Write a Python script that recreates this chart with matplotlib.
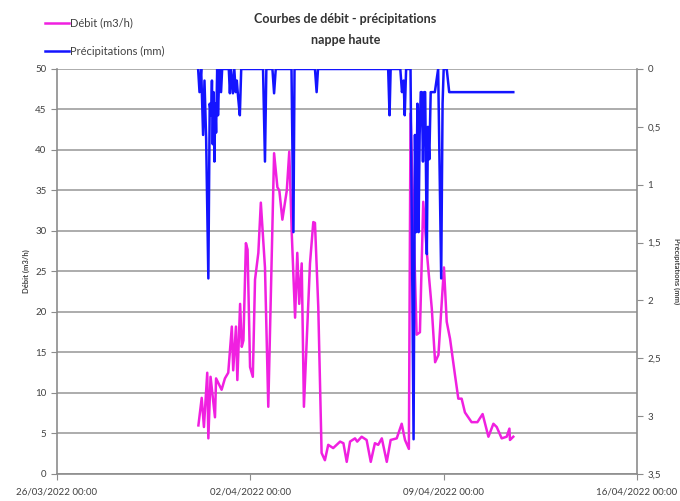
import datetime as dt
import matplotlib
matplotlib.use("Agg")
import matplotlib.pyplot as plt
import matplotlib.dates as mdates
from matplotlib.ticker import FuncFormatter, MultipleLocator

plt.rcParams['font.family'] = ['Lato', 'DejaVu Sans']

# origine de l'axe temporel
T0 = dt.datetime(2022, 3, 26)

# Débit (m3/h) - temps en jours depuis T0
debit_jours = [5.12, 5.24, 5.32, 5.44, 5.48, 5.56, 5.72, 5.76, 5.96, 6.08,
               6.20, 6.33, 6.38, 6.48, 6.53, 6.63, 6.69, 6.75, 6.84, 6.90,
               6.99, 7.09, 7.17, 7.29, 7.38, 7.53, 7.65, 7.86, 7.98, 8.05,
               8.16, 8.32, 8.41, 8.50, 8.62, 8.70, 8.77, 8.86, 8.94, 9.16,
               9.28, 9.34, 9.46, 9.58, 9.70, 9.82, 10.00, 10.25, 10.37, 10.49,
               10.61, 10.79, 10.87, 11.03, 11.21, 11.36, 11.51, 11.63, 11.76, 11.94,
               12.08, 12.30, 12.48, 12.60, 12.74, 12.80, 13.02, 13.14, 13.26, 13.39,
               13.57, 13.69, 13.81, 13.93, 14.01, 14.11, 14.23, 14.41, 14.53, 14.65,
               14.77, 15.01, 15.22, 15.41, 15.62, 15.80, 15.92, 16.10, 16.28, 16.38,
               16.40, 16.52]
debit = [6.0, 9.4, 5.8, 12.5, 4.4, 12.0, 7.0, 11.8, 10.4, 11.8,
         12.5, 18.2, 12.8, 18.2, 11.6, 21.0, 15.7, 16.5, 28.5, 27.7,
         13.2, 12.0, 24.0, 27.3, 33.5, 25.5, 8.3, 39.6, 35.4, 35.0,
         31.4, 35.0, 39.8, 29.7, 19.3, 27.3, 21.0, 26.0, 8.3, 26.0,
         31.1, 31.0, 20.6, 2.6, 1.7, 3.6, 3.2, 4.0, 3.8, 1.5,
         4.0, 4.4, 4.0, 4.6, 4.2, 1.5, 3.8, 3.6, 4.4, 1.5,
         4.2, 4.4, 6.2, 4.2, 3.1, 44.5, 17.2, 17.5, 33.6, 27.4,
         20.4, 13.8, 14.7, 21.2, 25.5, 18.8, 16.7, 12.2, 9.3, 9.3,
         7.6, 6.4, 6.4, 7.4, 4.6, 6.2, 5.8, 4.4, 4.6, 5.6,
         4.2, 4.6]

# Précipitations (mm) - temps en jours depuis T0
precip_jours = [5.11, 5.16, 5.22, 5.29, 5.34, 5.40, 5.48, 5.53, 5.58, 5.61,
                5.64, 5.67, 5.70, 5.73, 5.76, 5.80, 5.83, 5.88, 5.94, 5.98,
                6.22, 6.26, 6.30, 6.37, 6.42, 6.47, 6.51, 6.56, 6.62, 6.67,
                7.46, 7.53, 7.58, 7.80, 7.86, 7.92, 8.49, 8.56, 8.60, 9.34,
                9.40, 9.45, 11.99, 12.04, 12.08, 12.43, 12.49, 12.55, 12.59, 12.64,
                12.80, 12.91, 12.96, 13.00, 13.05, 13.09, 13.13, 13.17, 13.21, 13.25,
                13.29, 13.33, 13.39, 13.43, 13.48, 13.53, 13.68, 13.80, 13.91, 13.96,
                14.00, 14.11, 14.20, 16.52]
precip = [0.0, 0.2, 0.0, 0.57, 0.1, 0.6, 1.81, 0.3, 0.4, 0.1,
          0.65, 0.2, 0.8, 0.3, 0.55, 0.0, 0.4, 0.0, 0.2, 0.0,
          0.0, 0.21, 0.0, 0.21, 0.0, 0.2, 0.1, 0.25, 0.4, 0.0,
          0.0, 0.8, 0.0, 0.0, 0.21, 0.0, 0.0, 1.41, 0.0, 0.0,
          0.2, 0.0, 0.0, 0.4, 0.0, 0.0, 0.2, 0.1, 0.4, 0.0,
          0.0, 3.2, 0.57, 1.41, 0.3, 1.41, 0.57, 0.2, 0.2, 0.8,
          0.2, 0.2, 1.6, 0.5, 0.78, 0.2, 0.2, 0.0, 1.81, 0.3,
          0.0, 0.0, 0.2, 0.2]

OUTPUT_FILENAME = "out.png"
GRIS = '#8c8c8c'
TEXTE = '#404040'


def jours_vers_dates(jours):
    return [T0 + dt.timedelta(days=j) for j in jours]


fig = plt.figure(figsize=(6.8, 5.01), dpi=100)
ax = fig.add_axes([0.0838, 0.0539, 0.853, 0.8084])

l1, = ax.plot(jours_vers_dates(debit_jours), debit, color='#f020e0', lw=1.8,
              label='Débit (m3/h)')
ax.set_ylim(0, 50)
ax.yaxis.set_major_locator(MultipleLocator(5))
ax.set_xlim(T0, T0 + dt.timedelta(days=21))
ax.xaxis.set_major_locator(mdates.DayLocator(bymonthday=[26, 2, 9, 16]))
ax.xaxis.set_major_formatter(mdates.DateFormatter('%d/%m/%Y %H:%M'))
ax.grid(axis='y', color='#a6a6a6', lw=1.3)
ax.set_axisbelow(True)
for s in ['top', 'right']:
    ax.spines[s].set_visible(False)
for s in ['left', 'bottom']:
    ax.spines[s].set_color(GRIS)
    ax.spines[s].set_linewidth(1.2)
ax.tick_params(axis='both', colors=GRIS, labelcolor=TEXTE, labelsize=7, length=4)
ax.tick_params(axis='x', pad=6)
ax.set_ylabel('Débit (m3/h)', fontsize=5.5, fontweight='bold', color=TEXTE, labelpad=4)

ax2 = ax.twinx()
l2, = ax2.plot(jours_vers_dates(precip_jours), precip, color='#1414ff', lw=1.8,
               label='Précipitations (mm)')
ax2.set_ylim(3.5, 0)
ax2.yaxis.set_major_locator(MultipleLocator(0.5))
ax2.yaxis.set_major_formatter(FuncFormatter(lambda v, p: f"{v:g}".replace('.', ',')))
for s in ['top', 'left', 'bottom']:
    ax2.spines[s].set_visible(False)
ax2.spines['right'].set_color(GRIS)
ax2.spines['right'].set_linewidth(1.2)
ax2.tick_params(axis='y', colors=GRIS, labelcolor=TEXTE, labelsize=7, length=4)
ax2.set_ylabel('Précipitations (mm)', fontsize=5.5, fontweight='bold', color=TEXTE,
               rotation=-90, labelpad=14)

fig.legend(handles=[l1, l2], loc='upper left', bbox_to_anchor=(0.052, 0.985),
           frameon=False, fontsize=8, labelspacing=1.6, handlelength=2.1,
           handletextpad=0.1, labelcolor=TEXTE)

fig.text(0.508, 0.963, 'Courbes de débit - précipitations', ha='center', va='center',
         fontsize=9, fontweight='bold', color='#333333')
fig.text(0.508, 0.92, 'nappe haute', ha='center', va='center',
         fontsize=9, fontweight='bold', color='#333333')

fig.savefig(OUTPUT_FILENAME, dpi=100)
